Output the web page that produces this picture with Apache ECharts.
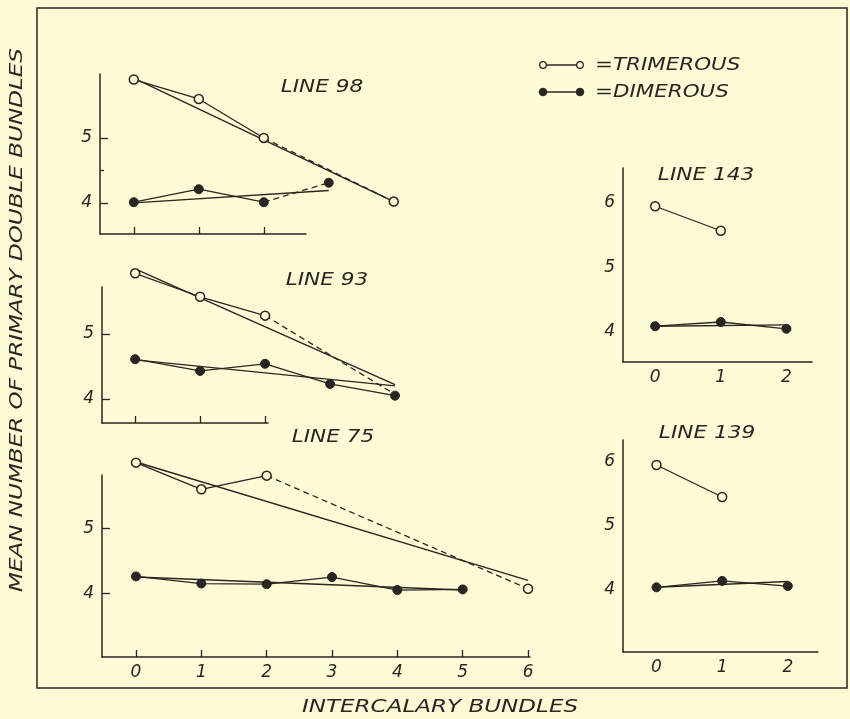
<!DOCTYPE html>
<html>
<head>
<meta charset="utf-8">
<script src="https://cdn.jsdelivr.net/npm/echarts@6/dist/echarts.min.js"></script>
<style>
  html, body { margin: 0; padding: 0; background: #fcfbd6; }
  #chart { width: 850px; height: 719px; }
</style>
</head>
<body>
<div id="chart"></div>
<script>
var INK = '#2a2522';
var PAPER = '#fcfbd6';
var FONT = '"DejaVu Sans", sans-serif';

// observed means, index = number of intercalary bundles (null = not plotted)
var tri98 = [5.90, 5.60, 5.00, null, 4.02];
var dim98 = [4.01, 4.21, 4.01, 4.31];
var triFit98 = [[0, 5.92], [4, 4.02]];
var dimFit98 = [[0, 4.00], [3, 4.19]];

var tri93 = [5.93, 5.57, 5.28, null, 4.07];
var dim93 = [4.61, 4.43, 4.54, 4.23, 4.05];
var triFit93 = [[0, 6.00], [4, 4.22]];
var dimFit93 = [[0, 4.60], [4, 4.20]];

var tri75 = [6.01, 5.60, 5.81, null, null, null, 4.07];
var dim75 = [4.26, 4.15, 4.14, 4.25, 4.05, 4.06];
var triFit75 = [[0, 6.02], [6, 4.20]];
var dimFit75 = [[0, 4.25], [5, 4.05]];

var tri143 = [5.95, 5.57];
var dim143 = [4.09, 4.155, 4.05];
var dimFit143 = [[0, 4.09], [2, 4.11]];

var tri139 = [5.95, 5.45];
var dim139 = [4.04, 4.14, 4.06];
var dimFit139 = [[0, 4.04], [2, 4.13]];

var xTicks3 = [0, 1, 2];
var xTicks7 = [0, 1, 2, 3, 4, 5, 6];
var yTicks = [4, 5];
var yTicksRight = [4, 5, 6];

var chartDom = document.getElementById('chart');
var myChart = echarts.init(chartDom, null, {renderer: 'canvas'});

// grid boxes in px and axis ranges; extraR = room the curves need past the x axis
var panels = [
    {left: 100, top: 74, width: 206, height: 160, xmin: -0.52, xmax: 2.65, ymin: 3.52, ymax: 5.985,
        xTicks: xTicks3, xLabels: false, yTicks: yTicks, yLabels: yTicks, showTicks: true, extraR: 200},
    {left: 102, top: 287, width: 166, height: 136, xmin: -0.51, xmax: 2.045, ymin: 3.63, ymax: 5.72,
        xTicks: xTicks3, xLabels: false, yTicks: yTicks, yLabels: yTicks, showTicks: true, extraR: 200},
    {left: 102, top: 475, width: 428, height: 182, xmin: -0.52, xmax: 6.03, ymin: 3.02, ymax: 5.82,
        xTicks: xTicks7, xLabels: true, yTicks: yTicks, yLabels: yTicks, showTicks: true, extraR: 40},
    {left: 623, top: 168, width: 189, height: 194, xmin: -0.49, xmax: 2.39, ymin: 3.535, ymax: 6.543,
        xTicks: xTicks3, xLabels: true, yTicks: [], yLabels: yTicksRight, showTicks: false, extraR: 0},
    {left: 623, top: 440, width: 195, height: 212, xmin: -0.51, xmax: 2.46, ymin: 3.03, ymax: 6.34,
        xTicks: xTicks3, xLabels: true, yTicks: [], yLabels: yTicksRight, showTicks: false, extraR: 0}
];

var labelStyle = {
    color: INK,
    fontFamily: FONT,
    fontStyle: 'italic',
    fontSize: 17
};

var grids = [], xAxes = [], yAxes = [];
panels.forEach(function (p, i) {
    grids.push({left: p.left, top: p.top, width: p.width, height: p.height, containLabel: false});
    xAxes.push({
        type: 'value', gridIndex: i, min: p.xmin, max: p.xmax,
        axisLine: {show: true, onZero: false, lineStyle: {color: INK, width: 1.5}},
        axisTick: {show: p.showTicks, inside: true, length: 7, customValues: p.xTicks,
            lineStyle: {color: INK, width: 1.3}},
        axisLabel: Object.assign({show: p.xLabels, customValues: p.xTicks, margin: 7}, labelStyle),
        splitLine: {show: false}
    });
    yAxes.push({
        type: 'value', gridIndex: i, min: p.ymin, max: p.ymax, position: 'left',
        axisLine: {show: true, onZero: false, lineStyle: {color: INK, width: 1.5}},
        axisTick: {show: p.showTicks, inside: true, length: 8, customValues: p.yTicks,
            lineStyle: {color: INK, width: 1.3}},
        axisLabel: Object.assign({show: true, customValues: p.yLabels, margin: 8}, labelStyle),
        splitLine: {show: false}
    });
});

// short half-unit tick on the LINE 98 axis
yAxes.push({
    type: 'value', gridIndex: 0, min: panels[0].ymin, max: panels[0].ymax, position: 'left',
    axisLine: {show: false, onZero: false},
    axisTick: {show: true, inside: true, length: 4, customValues: [4.5], lineStyle: {color: INK, width: 1.3}},
    axisLabel: {show: false},
    splitLine: {show: false}
});

// the curves run past the drawn axes, so each panel gets a larger hidden
// grid with the same scale for its series
var EXTRA_T = 40, EXTRA_B = 20;
var plotAxis = [];
panels.forEach(function (p) {
    var kx = p.width / (p.xmax - p.xmin);
    var ky = p.height / (p.ymax - p.ymin);
    var g = grids.length;
    grids.push({left: p.left, top: p.top - EXTRA_T, width: p.width + p.extraR,
        height: p.height + EXTRA_T + EXTRA_B, containLabel: false});
    var hidden = {axisLine: {show: false}, axisTick: {show: false}, axisLabel: {show: false}, splitLine: {show: false}};
    xAxes.push(Object.assign({type: 'value', gridIndex: g, min: p.xmin, max: p.xmax + p.extraR / kx}, hidden));
    yAxes.push(Object.assign({type: 'value', gridIndex: g,
        min: p.ymin - EXTRA_B / ky, max: p.ymax + EXTRA_T / ky}, hidden));
    plotAxis.push({x: xAxes.length - 1, y: yAxes.length - 1});
});

var series = [];

function fitLine(pts, i) {
    series.push({
        type: 'line', xAxisIndex: plotAxis[i].x, yAxisIndex: plotAxis[i].y, data: pts,
        symbol: 'none', lineStyle: {color: INK, width: 1.4}, z: 2, silent: true
    });
}

function observed(vals, i, filled, dashFrom, hideEnd) {
    var pts = [];
    vals.forEach(function (v, k) {
        if (v !== null) pts.push([k, v]);
    });
    var solid = dashFrom == null ? pts : pts.filter(function (p) { return p[0] <= dashFrom; });
    var dashed = dashFrom == null ? [] : pts.filter(function (p) { return p[0] >= dashFrom; });
    var itemStyle = filled
        ? {color: INK, borderColor: INK, borderWidth: 1}
        : {color: PAPER, borderColor: INK, borderWidth: 1.5};
    if (dashed.length) {
        series.push({
            type: 'line', xAxisIndex: plotAxis[i].x, yAxisIndex: plotAxis[i].y, silent: true,
            data: dashed.map(function (p, k) {
                return (k === 0 || hideEnd) ? {value: p, symbol: 'none'} : {value: p};
            }),
            symbol: 'circle', symbolSize: 9, showSymbol: true, itemStyle: itemStyle,
            lineStyle: {color: INK, width: 1.3, type: [6, 4]}, z: 3
        });
    }
    series.push({
        type: 'line', xAxisIndex: plotAxis[i].x, yAxisIndex: plotAxis[i].y, data: solid, silent: true,
        symbol: 'circle', symbolSize: 9, showSymbol: true, itemStyle: itemStyle,
        lineStyle: {color: INK, width: 1.3}, z: 4
    });
}

// LINE 98
fitLine(triFit98, 0);
fitLine(dimFit98, 0);
observed(tri98, 0, false, 2);
observed(dim98, 0, true, 2);
// LINE 93
fitLine(triFit93, 1);
fitLine(dimFit93, 1);
observed(tri93, 1, false, 2, true);
observed(dim93, 1, true);
// LINE 75
fitLine(triFit75, 2);
fitLine(dimFit75, 2);
observed(tri75, 2, false, 2);
observed(dim75, 2, true);
// LINE 143
fitLine(dimFit143, 3);
observed(tri143, 3, false);
observed(dim143, 3, true);
// LINE 139
fitLine(dimFit139, 4);
observed(tri139, 4, false);
observed(dim139, 4, true);

function hand(text, x, y, rot, sx) {
    return {
        type: 'text', x: x, y: y, rotation: rot || 0, scaleX: sx || 1.2, silent: true,
        style: {
            text: text, fill: INK, font: 'italic 18px ' + FONT,
            textAlign: 'center', textVerticalAlign: 'middle'
        }
    };
}

var graphics = [
    {type: 'rect', shape: {x: 37, y: 8, width: 810, height: 680}, silent: true,
        style: {fill: 'none', stroke: INK, lineWidth: 1.5}},
    hand('LINE 98', 322, 87),
    hand('LINE 93', 327, 280),
    hand('LINE 75', 333, 437),
    hand('LINE 143', 706, 175),
    hand('LINE 139', 707, 433),
    hand('INTERCALARY BUNDLES', 440, 707, 0, 1.28),
    hand('MEAN NUMBER OF PRIMARY DOUBLE BUNDLES', 17, 320, Math.PI / 2, 1.28),
    // legend
    {type: 'line', shape: {x1: 543, y1: 65, x2: 580, y2: 65}, style: {stroke: INK, lineWidth: 1.3}},
    {type: 'circle', shape: {cx: 543, cy: 65, r: 3.3}, style: {fill: PAPER, stroke: INK, lineWidth: 1.3}},
    {type: 'circle', shape: {cx: 580, cy: 65, r: 3.3}, style: {fill: PAPER, stroke: INK, lineWidth: 1.3}},
    {type: 'line', shape: {x1: 543, y1: 92, x2: 580, y2: 92}, style: {stroke: INK, lineWidth: 1.3}},
    {type: 'circle', shape: {cx: 543, cy: 92, r: 3.8}, style: {fill: INK, stroke: INK, lineWidth: 1}},
    {type: 'circle', shape: {cx: 580, cy: 92, r: 3.8}, style: {fill: INK, stroke: INK, lineWidth: 1}},
    {type: 'text', x: 595, y: 65, scaleX: 1.19, silent: true,
        style: {text: '=TRIMEROUS', fill: INK, font: 'italic 18px ' + FONT, textAlign: 'left', textVerticalAlign: 'middle'}},
    {type: 'text', x: 595, y: 92, scaleX: 1.19, silent: true,
        style: {text: '=DIMEROUS', fill: INK, font: 'italic 18px ' + FONT, textAlign: 'left', textVerticalAlign: 'middle'}}
];

var option = {
    backgroundColor: PAPER,
    animation: false,
    grid: grids,
    xAxis: xAxes,
    yAxis: yAxes,
    series: series,
    graphic: graphics
};

option && myChart.setOption(option);
</script>
</body>
</html>
